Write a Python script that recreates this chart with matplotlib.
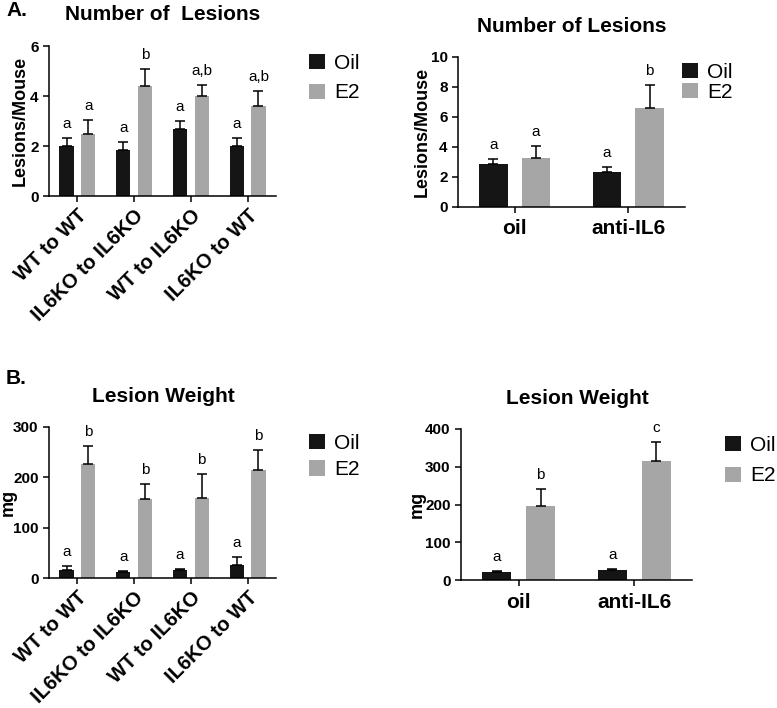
import numpy as np
import matplotlib
matplotlib.use('Agg')
import matplotlib.pyplot as plt

plt.rcParams['font.family'] = ['Liberation Sans', 'DejaVu Sans']

# Panel A, left: number of lesions by transplant group
transplant_groups = ['WT to WT', 'IL6KO to IL6KO', 'WT to IL6KO', 'IL6KO to WT']
lesions_oil = [2.0, 1.83, 2.67, 2.0]
lesions_oil_err = [0.33, 0.32, 0.34, 0.33]
lesions_e2 = [2.5, 4.4, 4.0, 3.6]
lesions_e2_err = [0.56, 0.68, 0.45, 0.61]
lesions_oil_sig = ['a', 'a', 'a', 'a']
lesions_e2_sig = ['a', 'b', 'a,b', 'a,b']

# Panel A, right: number of lesions by treatment
treatments = ['oil', 'anti-IL6']
treat_lesions_oil = [2.84, 2.33]
treat_lesions_oil_err = [0.36, 0.36]
treat_lesions_e2 = [3.29, 6.58]
treat_lesions_e2_err = [0.75, 1.53]
treat_lesions_oil_sig = ['a', 'a']
treat_lesions_e2_sig = ['a', 'b']

# Panel B, left: lesion weight by transplant group
weight_oil = [16.5, 12.5, 16.5, 25.7]
weight_oil_err = [6.5, 2.0, 1.5, 17.0]
weight_e2 = [227, 157, 159.5, 214]
weight_e2_err = [35, 29.5, 48, 40]
weight_oil_sig = ['a', 'a', 'a', 'a']
weight_e2_sig = ['b', 'b', 'b', 'b']

# Panel B, right: lesion weight by treatment
treat_weight_oil = [21.2, 26.5]
treat_weight_oil_err = [2.6, 3.5]
treat_weight_e2 = [196, 315]
treat_weight_e2_err = [46, 51]
treat_weight_oil_sig = ['a', 'a']
treat_weight_e2_sig = ['b', 'c']

OIL_COLOR = '#151515'
E2_COLOR = '#a6a6a6'
W, H = 777, 708


def px_axes(fig, x0, y0, x1, y1):
    """Add axes from a pixel box (top-left origin)."""
    return fig.add_axes([x0 / W, 1 - y1 / H, (x1 - x0) / W, (y1 - y0) / H])


def bar_panel(ax, labels, oil, oil_err, e2, e2_err, oil_sig, e2_sig, ylim, yticks, ylabel,
              label_x, rotate, offset=0.19, width=0.25):
    x = np.arange(len(labels))
    ekw = dict(ecolor='black', elinewidth=1.1, capsize=3.5, capthick=1.1)
    ax.bar(x - offset, oil, width, color=OIL_COLOR, label='Oil',
           yerr=[np.zeros(len(oil)), oil_err], error_kw=ekw, zorder=2)
    ax.bar(x + offset, e2, width, color=E2_COLOR, label='E2',
           yerr=[np.zeros(len(e2)), e2_err], error_kw=ekw, zorder=2)
    # significance letters above the error bars
    for xi, v, e, s in zip(x - offset, oil, oil_err, oil_sig):
        ax.annotate(s, (xi, v + e), xytext=(0, 5), textcoords='offset points',
                    ha='center', va='bottom', fontsize=11)
    for xi, v, e, s in zip(x + offset, e2, e2_err, e2_sig):
        ax.annotate(s, (xi, v + e), xytext=(0, 5), textcoords='offset points',
                    ha='center', va='bottom', fontsize=11)
    ax.set_xlim(-0.5, len(labels) - 0.5)
    ax.set_ylim(*ylim)
    ax.set_yticks(yticks)
    ax.set_xticks(x)
    for side in ['top', 'right']:
        ax.spines[side].set_visible(False)
    for side in ['left', 'bottom']:
        ax.spines[side].set_linewidth(1.1)
    ax.tick_params(width=1.1, length=4)
    for t in ax.get_yticklabels():
        t.set_fontweight('bold')
        t.set_fontsize(11)
    if rotate:
        ax.set_xticklabels(labels, rotation=45, ha='right', rotation_mode='anchor',
                           fontsize=14.5, fontweight='bold')
        ax.tick_params(axis='x', pad=3)
    else:
        ax.set_xticklabels(labels, fontsize=15, fontweight='bold')
        ax.tick_params(axis='x', pad=5)
    ax.set_ylabel(ylabel, fontsize=13, fontweight='bold')
    ax.yaxis.set_label_coords(label_x, 0.5)


def add_legend(fig, ax, x, y, spacing):
    return ax.legend(loc='upper left', bbox_to_anchor=(x / W, 1 - y / H),
                     bbox_transform=fig.transFigure, frameon=False, fontsize=15,
                     handlelength=0.75, handleheight=0.75, handletextpad=0.45,
                     labelspacing=spacing, borderpad=0, borderaxespad=0)


fig = plt.figure(figsize=(W / 100, H / 100), dpi=100)

axA1 = px_axes(fig, 49, 46, 276, 196)
bar_panel(axA1, transplant_groups, lesions_oil, lesions_oil_err, lesions_e2, lesions_e2_err,
          lesions_oil_sig, lesions_e2_sig, (0, 6), [0, 2, 4, 6], 'Lesions/Mouse', -0.09, True)
add_legend(fig, axA1, 309, 54, 0.5)

axA2 = px_axes(fig, 458, 57, 685, 207)
bar_panel(axA2, treatments, treat_lesions_oil, treat_lesions_oil_err, treat_lesions_e2,
          treat_lesions_e2_err, treat_lesions_oil_sig, treat_lesions_e2_sig, (0, 10),
          [0, 2, 4, 6, 8, 10], 'Lesions/Mouse', -0.12, False, offset=0.1875)
add_legend(fig, axA2, 682, 63, 0.05)

axB1 = px_axes(fig, 49, 427, 276, 578)
bar_panel(axB1, transplant_groups, weight_oil, weight_oil_err, weight_e2, weight_e2_err,
          weight_oil_sig, weight_e2_sig, (0, 300), [0, 100, 200, 300], 'mg', -0.14, True)
add_legend(fig, axB1, 309, 434, 0.35)

axB2 = px_axes(fig, 461, 429, 692, 580)
bar_panel(axB2, treatments, treat_weight_oil, treat_weight_oil_err, treat_weight_e2,
          treat_weight_e2_err, treat_weight_oil_sig, treat_weight_e2_sig, (0, 400),
          [0, 100, 200, 300, 400], 'mg', -0.152, False, offset=0.19)
add_legend(fig, axB2, 725, 436, 0.55)

# titles and panel letters
fig.text(163 / W, 1 - 15 / H, 'Number of  Lesions', ha='center', va='center',
         fontsize=15, fontweight='bold')
fig.text(572 / W, 1 - 26 / H, 'Number of Lesions', ha='center', va='center',
         fontsize=15, fontweight='bold')
fig.text(163 / W, 1 - 397 / H, 'Lesion Weight', ha='center', va='center',
         fontsize=15, fontweight='bold')
fig.text(577 / W, 1 - 398 / H, 'Lesion Weight', ha='center', va='center',
         fontsize=15, fontweight='bold')
fig.text(6 / W, 1 - 11 / H, 'A.', ha='left', va='center', fontsize=15, fontweight='bold')
fig.text(6 / W, 1 - 378 / H, 'B.', ha='left', va='center', fontsize=15, fontweight='bold')

fig.savefig('out.png', dpi=100)
